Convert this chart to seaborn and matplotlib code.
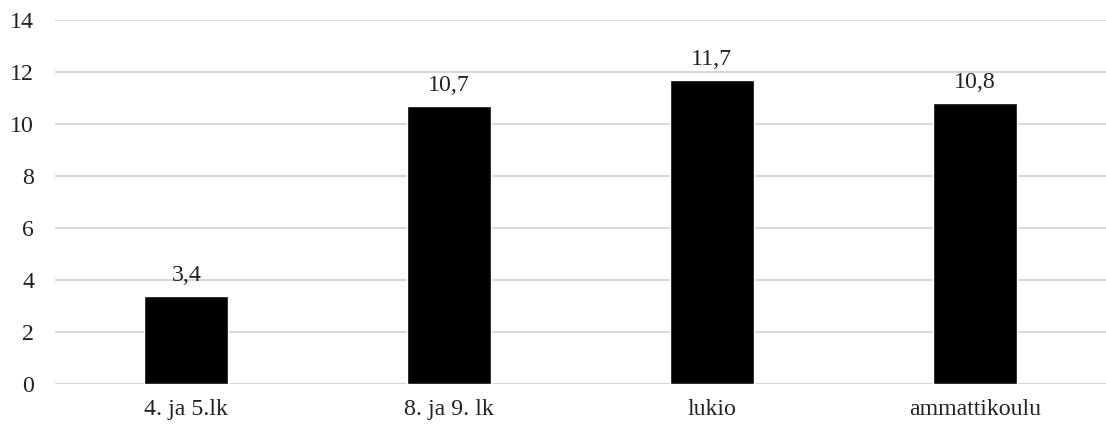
import matplotlib
matplotlib.use("Agg")
import matplotlib.pyplot as plt
import seaborn as sns
import pandas as pd

categories = ["4. ja 5.lk", "8. ja 9. lk", "lukio", "ammattikoulu"]
values = [3.4, 10.7, 11.7, 10.8]
y_ticks = [0, 2, 4, 6, 8, 10, 12, 14]

sns.set_theme(style="white")
plt.rcParams["font.family"] = ["Liberation Serif", "DejaVu Serif"]

FS = 17.2

df = pd.DataFrame({"ryhma": categories, "arvo": values})

fig = plt.figure(figsize=(11.06, 4.26), dpi=100)
ax = fig.add_axes([55 / 1106, 1 - 384 / 426, 1 - 55 / 1106, (384 - 20) / 426])

sns.barplot(data=df, x="ryhma", y="arvo", color="black", width=0.32,
            saturation=1, ax=ax, zorder=3)

ax.set_ylim(0, 14)
ax.set_xlim(-0.5, 3.5)
ax.set_yticks(y_ticks)
ax.set_yticklabels([str(t) for t in y_ticks], fontsize=FS, color="#222222")
ax.tick_params(axis="x", labelsize=FS, colors="#222222", pad=11, length=0)
ax.tick_params(axis="y", pad=15, length=0)
ax.set_xlabel("")
ax.set_ylabel("")

ax.yaxis.grid(True, color="#d9d9d9", linewidth=1.5, zorder=0)
for side in ["top", "right", "left", "bottom"]:
    ax.spines[side].set_visible(False)

for i, v in enumerate(values):
    ax.annotate(f"{v:.1f}".replace(".", ","), (i, v), xytext=(0, 7),
                textcoords="offset points", ha="center", va="bottom",
                fontsize=FS, color="#222222")

fig.savefig("out.png", dpi=100)
